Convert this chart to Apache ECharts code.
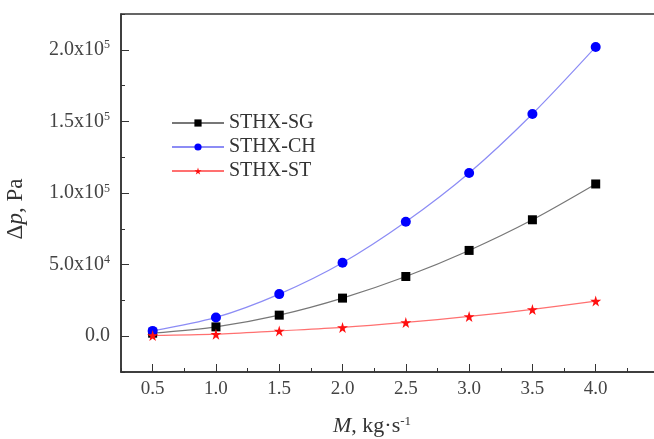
<!DOCTYPE html>
<html>
<head>
<meta charset="utf-8">
<script src="https://cdn.jsdelivr.net/npm/echarts@6/dist/echarts.min.js"></script>
<style>
  html, body { margin: 0; padding: 0; background: #fff; }
  #chart { width: 654px; height: 439px; }
</style>
</head>
<body>
<div id="chart"></div>
<script>
// mass flow rate M, kg/s
var flowRates = [0.5, 1.0, 1.5, 2.0, 2.5, 3.0, 3.5, 4.0]
// pressure drop, Pa
var dpSG = [2100, 6500, 14700, 26600, 41700, 59900, 81300, 106300]
var dpCH = [3700, 13100, 29400, 51300, 79900, 114000, 155200, 202000]
var dpST = [500, 1400, 3700, 6100, 9600, 13800, 18700, 24500]
var xTicks = [0.5, 1.0, 1.5, 2.0, 2.5, 3.0, 3.5, 4.0]
var yTicks = [0, 50000, 100000, 150000, 200000]

var font = 'Liberation Serif'
var chart = echarts.init(document.getElementById('chart'))

const pairs = (ys) => flowRates.map((x, i) => [x, ys[i]])

const yLabel = (v) => {
  if (v === 0) return '0.0'
  var e = Math.floor(Math.log10(v))
  var m = (v / Math.pow(10, e)).toFixed(1)
  return m + 'x10{sup|' + e + '}'
}

var option = {
  backgroundColor: '#fff',
  animation: false,
  grid: {
    left: 121,
    top: 14,
    right: -5,
    bottom: 67,
    outerBoundsMode: 'none',
    containLabel: false,
    show: true,
    borderColor: '#333',
    borderWidth: 1.5
  },
  legend: {
    orient: 'vertical',
    left: 166,
    top: 108,
    itemWidth: 52,
    itemHeight: 9,
    itemGap: 4,
    textStyle: { fontFamily: font, fontSize: 20, color: '#333' },
    data: ['STHX-SG', 'STHX-CH', 'STHX-ST']
  },
  xAxis: [
    {
      type: 'value',
      min: 0.25,
      max: 4.5,
      interval: 0.25,
      splitLine: { show: false },
      axisLine: { onZero: false, lineStyle: { color: '#333', width: 1.5 } },
      axisTick: { inside: true, length: 4, lineStyle: { color: '#333' } },
      axisLabel: {
        customValues: xTicks,
        formatter: (v) => v.toFixed(1),
        fontFamily: font,
        fontSize: 19,
        color: '#444',
        margin: 8
      },
      name: '{it|M}, kg·s{sup|-1}',
      nameLocation: 'middle',
      nameGap: 43,
      nameTextStyle: {
        fontFamily: font,
        fontSize: 22,
        color: '#333',
        padding: [0, 36, 0, 0],
        rich: {
          it: { fontFamily: font, fontSize: 22, fontStyle: 'italic', color: '#333' },
          sup: { fontFamily: font, fontSize: 13, color: '#333', verticalAlign: 'top', padding: [0, 0, 9, 0] }
        }
      }
    },
    {
      type: 'value',
      position: 'bottom',
      min: 0.25,
      max: 4.5,
      splitLine: { show: false },
      axisLine: { show: false, onZero: false },
      axisTick: { inside: true, length: 8, customValues: xTicks, lineStyle: { color: '#333' } },
      axisLabel: { show: false }
    }
  ],
  yAxis: [
    {
      type: 'value',
      min: -25000,
      max: 225000,
      interval: 25000,
      splitLine: { show: false },
      axisLine: { show: true, onZero: false, lineStyle: { color: '#333', width: 1.5 } },
      axisTick: { show: true, inside: true, length: 4, lineStyle: { color: '#333' } },
      axisLabel: {
        customValues: yTicks,
        formatter: yLabel,
        fontFamily: font,
        fontSize: 20,
        color: '#444',
        margin: 11,
        rich: {
          sup: { fontFamily: font, fontSize: 12, color: '#444', verticalAlign: 'top', padding: [0, 0, 9, 0] }
        }
      },
      name: 'Δ{it|p}, Pa',
      nameLocation: 'middle',
      nameGap: 94,
      nameTextStyle: {
        fontFamily: font,
        fontSize: 23,
        color: '#333',
        padding: [0, 32, 0, 0],
        rich: {
          it: { fontFamily: font, fontSize: 23, fontStyle: 'italic', color: '#333' }
        }
      }
    },
    {
      type: 'value',
      position: 'left',
      min: -25000,
      max: 225000,
      splitLine: { show: false },
      axisLine: { show: false, onZero: false },
      axisTick: { show: true, inside: true, length: 8, customValues: yTicks, lineStyle: { color: '#333' } },
      axisLabel: { show: false }
    }
  ],
  series: [
    {
      name: 'STHX-SG',
      type: 'line',
      smooth: 0.3,
      data: pairs(dpSG),
      symbol: 'rect',
      symbolSize: 9,
      itemStyle: { color: '#000' },
      lineStyle: { color: '#777', width: 1.2 }
    },
    {
      name: 'STHX-CH',
      type: 'line',
      smooth: 0.3,
      data: pairs(dpCH),
      symbol: 'circle',
      symbolSize: 10,
      itemStyle: { color: '#0000ff' },
      lineStyle: { color: '#8c8cf5', width: 1.2 }
    },
    {
      name: 'STHX-ST',
      type: 'line',
      smooth: 0.3,
      data: pairs(dpST),
      symbol: 'path://M50,0 L61,35 L98,35 L68,57 L79,91 L50,70 L21,91 L32,57 L2,35 L39,35 Z',
      symbolSize: 11,
      itemStyle: { color: '#ff1010' },
      lineStyle: { color: '#ff7070', width: 1.2 }
    }
  ]
}

chart.setOption(option)
</script>
</body>
</html>
